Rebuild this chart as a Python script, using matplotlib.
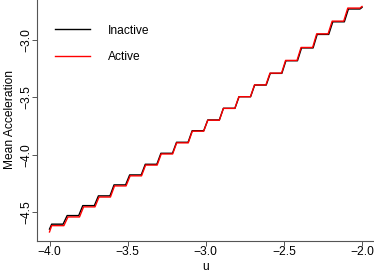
import matplotlib
matplotlib.use('Agg')
import matplotlib.pyplot as plt

plt.rcParams['font.family'] = ['Liberation Sans', 'DejaVu Sans']

# step levels (one per 0.1 step in u)
u_start = -4.0
u_end = -2.0
rise_inactive = [-3.9, -3.8, -3.7, -3.6, -3.5, -3.4, -3.3, -3.2, -3.1, -3.0,
                 -2.9, -2.8, -2.7, -2.6, -2.5, -2.4, -2.3, -2.2, -2.1]
rise_active = [-3.895, -3.795, -3.696, -3.597, -3.497, -3.398, -3.298, -3.199,
               -3.099, -3.000, -2.900, -2.801, -2.701, -2.602, -2.502, -2.403,
               -2.303, -2.204, -2.104]
level_inactive = [-4.607, -4.532, -4.445, -4.360, -4.264, -4.177, -4.084,
                  -3.988, -3.892, -3.791, -3.697, -3.595, -3.494, -3.392,
                  -3.290, -3.180, -3.068, -2.950, -2.840, -2.728]
level_active = [-4.620, -4.544, -4.456, -4.370, -4.273, -4.185, -4.091,
                -3.994, -3.897, -3.795, -3.699, -3.596, -3.494, -3.391,
                -3.288, -3.177, -3.064, -2.945, -2.834, -2.720]
start_inactive, end_inactive = -4.650, -2.714
start_active, end_active = -4.675, -2.706

xticks = [-4.0, -3.5, -3.0, -2.5, -2.0]
yticks = [-4.5, -4.0, -3.5, -3.0]


def stair(y0, rises, levels, y1, half=0.013):
    u = [u_start, u_start + 0.014]
    y = [y0, levels[0]]
    for c, prev, lev in zip(rises, levels[:-1], levels[1:]):
        u += [c - half, c + half]
        y += [prev, lev]
    u += [u_end - half, u_end]
    y += [levels[-1], y1]
    return u, y


fig = plt.figure(figsize=(3.74, 2.71), dpi=100)
ax = fig.add_axes([37 / 374, 30 / 271, 337.5 / 374, 243 / 271])

u1, y1 = stair(start_inactive, rise_inactive, level_inactive, end_inactive)
u2, y2 = stair(start_active, rise_active, level_active, end_active)
ax.plot(u1, y1, color='black', lw=1.0, label='Inactive')
ax.plot(u2, y2, color='red', lw=1.0, label='Active')

ax.set_xlim(-4.08, -1.92)
ax.set_ylim(-4.754, -2.632)

for s in ['top', 'right']:
    ax.spines[s].set_visible(False)
for s in ['left', 'bottom']:
    ax.spines[s].set_color('#555555')
    ax.spines[s].set_linewidth(0.8)

ax.set_xticks(xticks)
ax.set_yticks(yticks)
ax.tick_params(length=3.3, width=0.7, color='#555555', labelsize=8.64,
               labelcolor='black')
ax.tick_params(axis='x', pad=0.5)
ax.tick_params(axis='y', pad=0.3, labelrotation=90)
plt.setp(ax.get_yticklabels(), va='center')

fig.text(205.75 / 374, 1.5 / 271, 'u', ha='center', va='baseline', fontsize=8.64)
fig.text(9.8 / 374, 1 - 119.5 / 271, 'Mean Acceleration', rotation=90,
         ha='center', va='center', fontsize=8.64)

ax.legend(loc='upper left', bbox_to_anchor=(55 / 374, 1 - 24.5 / 271),
          bbox_transform=fig.transFigure, frameon=False, fontsize=8.64,
          handlelength=2.92, handletextpad=1.5, labelspacing=1.25,
          borderpad=0, borderaxespad=0)

fig.savefig('out.png', dpi=100)
